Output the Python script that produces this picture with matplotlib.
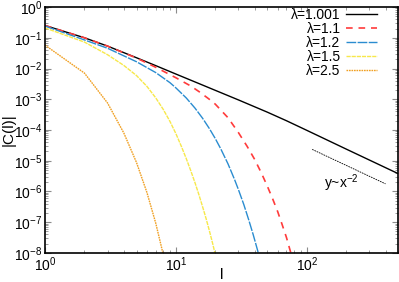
import matplotlib
matplotlib.use("Agg")
import matplotlib.pyplot as plt
from matplotlib.ticker import LogLocator, NullFormatter

plt.rcParams['font.family'] = ['Liberation Sans', 'DejaVu Sans']
plt.rcParams['mathtext.default'] = 'regular'
plt.rcParams['font.size'] = 10

# values (log-log)
l_1001 = [1, 2, 3, 5, 7, 10, 15, 20, 30, 50, 70, 100, 200, 500]
c_1001 = [0.251, 0.1, 0.0537, 0.0224, 0.01245, 6.61e-3, 3.24e-3, 1.95e-3, 9.55e-4,
          3.8e-4, 2.0e-4, 9.77e-5, 2.4e-5, 3.8e-6]

l_11 = [1, 2, 3, 5, 7, 10, 13, 15, 18, 20, 25, 30, 35, 40, 45, 50, 55, 60, 65, 70, 75, 77]
c_11 = [0.251, 0.1, 0.0537, 0.0219, 0.011, 5.01e-3, 2.69e-3, 1.78e-3, 1.0e-3, 6.92e-4,
        2.51e-4, 8.32e-5, 2.95e-5, 1.1e-5, 3.98e-6, 1.48e-6, 5.62e-7, 2.19e-7, 8.13e-8,
        3.16e-8, 1.12e-8, 7.59e-9]

l_12 = [1, 2, 3, 5, 7, 9, 10, 12, 14, 16, 18, 20, 22, 25, 28, 30, 33, 36, 39, 42, 43]
c_12 = [0.24, 0.0851, 0.0457, 0.0166, 7.41e-3, 3.47e-3, 2.34e-3, 1.1e-3, 5.13e-4, 2.4e-4,
        1.12e-4, 5.25e-5, 2.45e-5, 7.94e-6, 2.51e-6, 1.17e-6, 3.8e-7, 1.2e-7, 3.89e-8,
        1.26e-8, 8.51e-9]

l_15 = [1, 2, 3, 4, 5, 6, 7, 8, 9, 10, 11, 12, 13, 14, 15, 16, 17, 18, 19, 20]
c_15 = [0.209, 0.0724, 0.0282, 0.0126, 5.89e-3, 2.63e-3, 1.12e-3, 4.68e-4, 1.91e-4, 7.59e-5,
        2.95e-5, 1.17e-5, 4.68e-6, 1.91e-6, 7.76e-7, 3.16e-7, 1.32e-7, 5.37e-8, 2.19e-8, 8.91e-9]

l_25 = [1, 2, 3, 4, 5, 6, 7, 8]
c_25 = [0.0575, 7.08e-3, 7.59e-4, 7.94e-5, 8.71e-6, 9.33e-7, 9.55e-8, 8.91e-9]

# guide line y ~ x^-2
guide_l = [110, 400]
guide_c = [2.34e-5, 1.77e-6]

fig = plt.figure(figsize=(3.99, 2.82), dpi=100)
ax = fig.add_axes([0.113, 0.103, 0.885, 0.872])

ax.plot(l_1001, c_1001, color='black', lw=1.0, label='λ=1.001')
ax.plot(l_11, c_11, color='#ff3b3b', lw=1.2, dashes=(4, 3.5), label='λ=1.1')
ax.plot(l_12, c_12, color='#2a8cd0', lw=1.0, dashes=(7, 1), label='λ=1.2')
ax.plot(l_15, c_15, color='#f7e84a', lw=1.0, dashes=(3, 0.7), label='λ=1.5')
ax.plot(l_25, c_25, color='#f0a023', lw=1.0, dashes=(1.2, 0.6), label='λ=2.5')

ax.plot(guide_l, guide_c, color='black', lw=0.6, dashes=(2, 1))
ax.text(135, 1.3e-6, r'y~x$^{-2}$', fontsize=10, va='baseline')

ax.set_xscale('log')
ax.set_yscale('log')
ax.set_xlim(1, 500)
ax.set_ylim(1e-8, 1)
ax.yaxis.set_major_locator(LogLocator(base=10, numticks=20))
ax.yaxis.set_minor_locator(LogLocator(base=10, subs=range(2, 10), numticks=20))
ax.yaxis.set_minor_formatter(NullFormatter())

ax.tick_params(which='both', direction='in', top=True, right=True, color='0.55',
               labelsize=10, pad=2)
ax.tick_params(which='major', length=4, width=0.8)
ax.tick_params(which='minor', length=2, width=0.6)
for s in ax.spines.values():
    s.set_linewidth(1.2)

ax.set_xlabel('l', fontsize=11)
ax.set_ylabel('|C(l)|', fontsize=11)
ax.xaxis.set_label_coords(0.5, -0.06)
ax.yaxis.set_label_coords(-0.083, 0.5)

ax.legend(loc='upper right', bbox_to_anchor=(0.955, 1.02), borderaxespad=0,
          frameon=False, markerfirst=False, handlelength=2.2,
          handletextpad=0.4, labelspacing=0.0, fontsize=10)

fig.savefig('out.png', dpi=100)
